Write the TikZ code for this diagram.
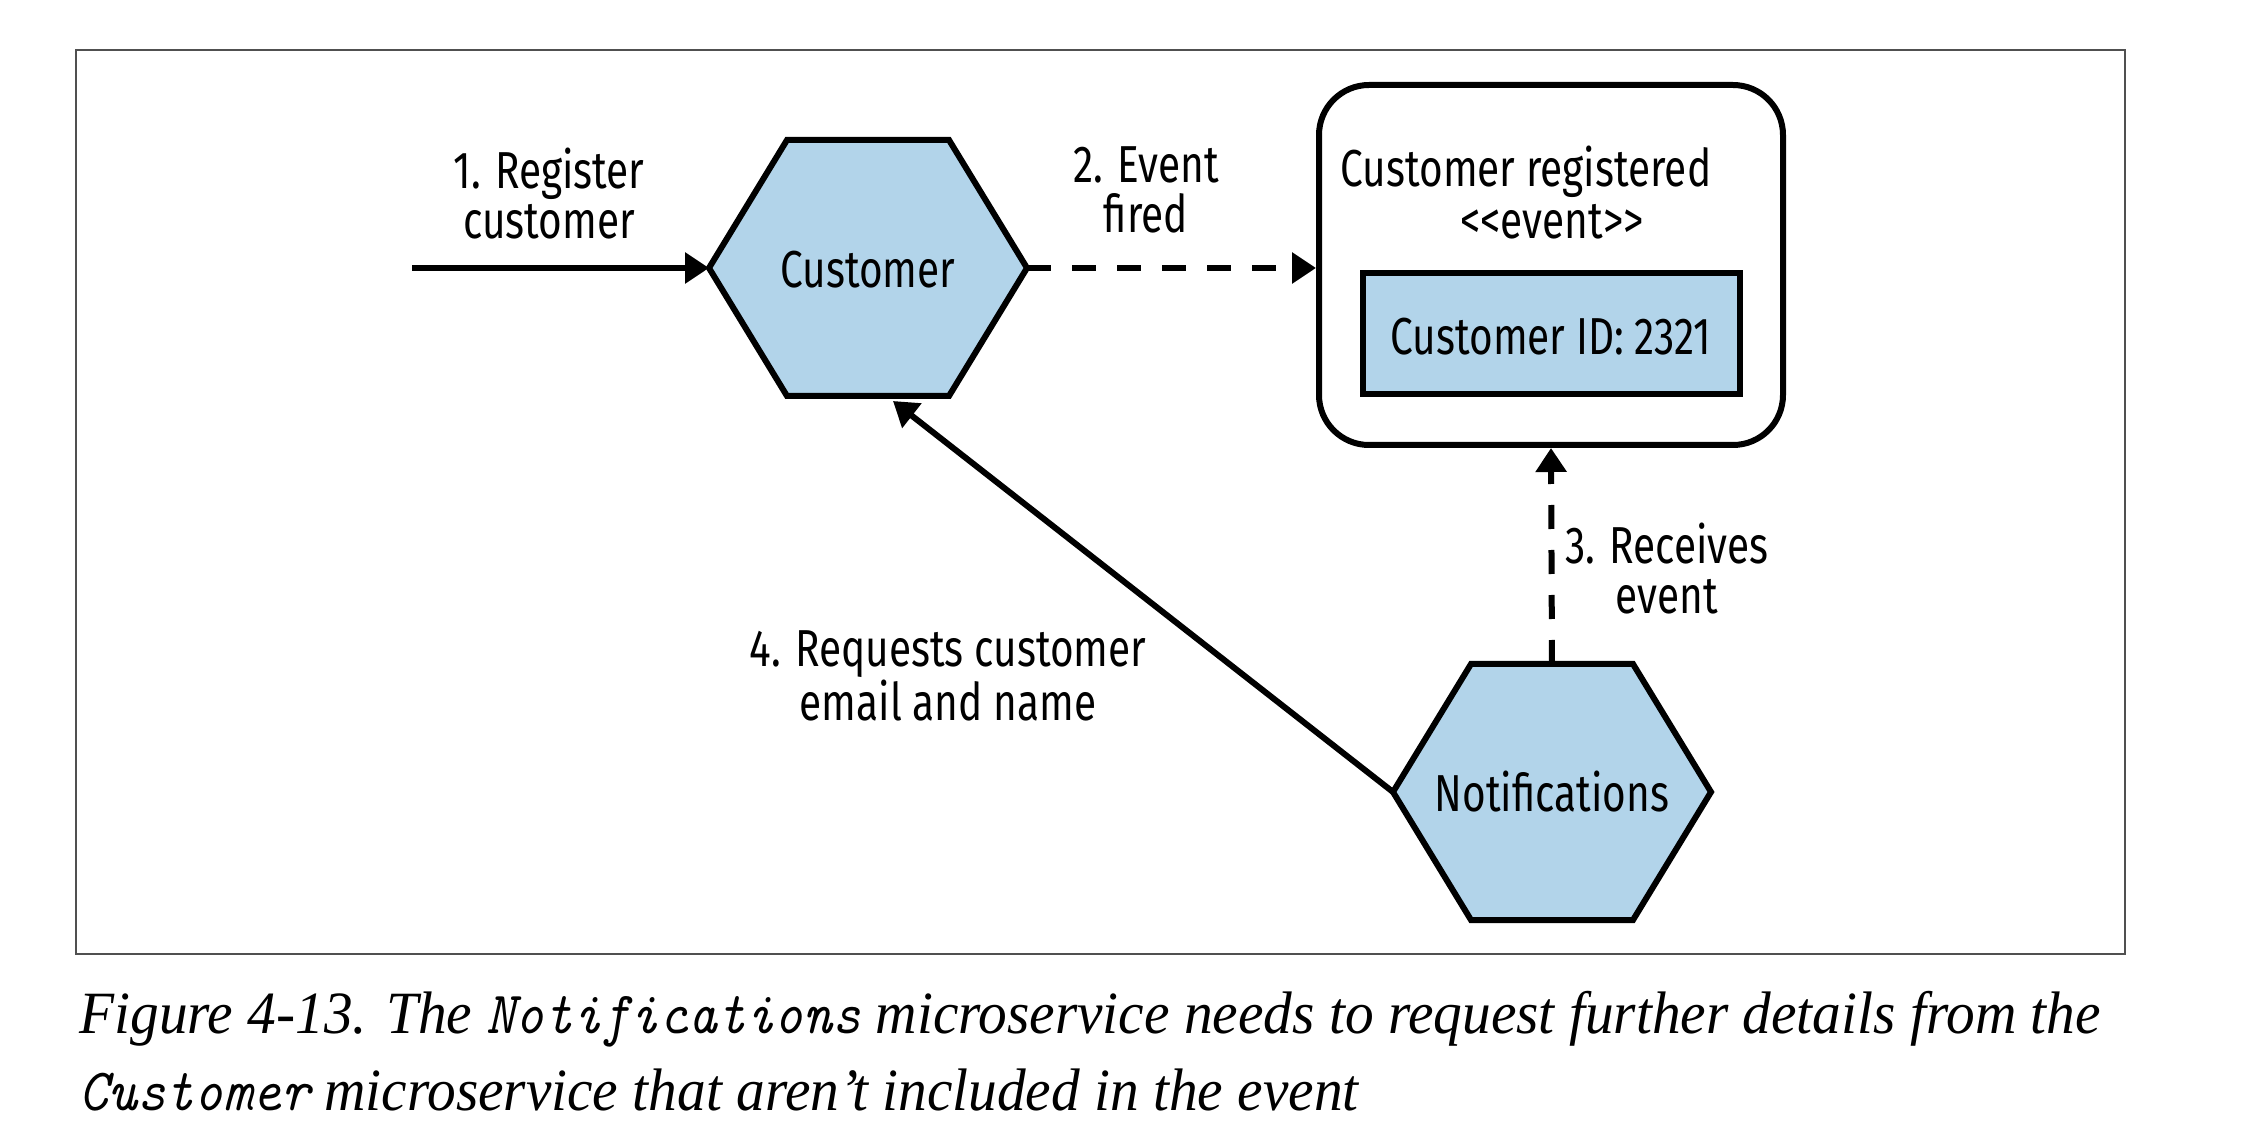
\documentclass[tikz,border=0pt]{standalone}
\usepackage{fontspec}
\setmainfont{Liberation Serif}
\newfontfamily\labfont[FakeStretch=0.78]{Fira Sans}
\newfontfamily\capserif[FakeStretch=0.956]{Liberation Serif}
\newfontfamily\capmono[FakeStretch=0.915]{lmmono10-italic.otf}
\usetikzlibrary{arrows.meta,calc}
\definecolor{hexblue}{RGB}{178,212,234}
\definecolor{framegray}{RGB}{80,80,80}
\newcommand\drawhex[3]{%
  \draw[hexfill] (#2,#3) coordinate (#1-c)
    +(-159,0) coordinate (#1-w) -- +(-81,-128) coordinate (#1-nw)
    -- +(81,-128) coordinate (#1-ne) -- +(159,0) coordinate (#1-e)
    -- +(81,128) coordinate (#1-se) -- +(-81,128) coordinate (#1-sw) -- cycle;
  \coordinate (#1-n) at ($(#2,#3)+(0,-128)$);
}
\tikzset{
  hexfill/.style={fill=hexblue, draw=black, line width=3pt, line join=miter},
  lab/.style={font=\labfont\fontsize{26}{25}\selectfont, align=center, inner sep=0pt},
  conn/.style={line width=3pt, -{Triangle[length=12pt,width=15pt]}},
  dashconn/.style={conn, dash pattern=on 12pt off 10.5pt},
  evbox/.style={draw=black, line width=3pt, rounded corners=25pt, minimum width=232pt, minimum height=180pt, inner sep=0pt},
  idbox/.style={draw=black, fill=hexblue, line width=3pt, minimum width=188.5pt, minimum height=60.5pt, inner sep=0pt},
  captext/.style={font=\capserif\itshape\fontsize{30}{38}\selectfont, inner sep=0pt, anchor=base west},
}
\begin{document}
\begin{tikzpicture}[x=0.5pt,y=-0.5pt]
\useasboundingbox[fill=white] (0,0) rectangle (2250,1138);
\draw[framegray, line width=1pt] (76,50) rectangle (2125,954);

% hexagons
\drawhex{cust}{868}{268}
\node[lab] (custlab) at (868,270) {Customer};
\drawhex{notif}{1552}{792}
\node[lab] (notiflab) at (1552,792) {Notifications};

% event box
\node[evbox] (box) at (1551,265) {};
\node[lab] (evtitle) at (1526,172) {Customer registered};
\node[lab] (evtype) at (1552,222) {<\kern0pt<event>\kern0pt>};
\node[idbox] (idbox) at (1551.5,334) {};
\node[lab] (idtext) at (1551,337) {Customer ID: 2321};

% connectors
\coordinate (start) at (412,268);
\coordinate (ctip) at (893,401);
\draw[conn] (start) -- (cust-w);
\draw[dashconn] (cust-e) -- (cust-e -| box.west);
\draw[dashconn] (notif-n) -- (box.south);
\draw[conn] (notif-w) -- (ctip);

% labels
\node[lab] (l1) at (549,194) {1. Register\\customer};
\node[lab] (l2) at (1146,190) {2. Event\\fired};
\node[lab] (l3) at (1667,569) {3. Receives\\event};
\node[lab] (l4) at (948,676) {4. Requests customer\\email and name};

% caption
\node[captext] (cap1) at (79,1033) {Figure 4-13. The {\capmono Notifications} microservice needs to request further details from the};
\node[captext] (cap2) at (79,1110) {{\capmono Customer} microservice that aren’t included in the event};
\end{tikzpicture}
\end{document}
